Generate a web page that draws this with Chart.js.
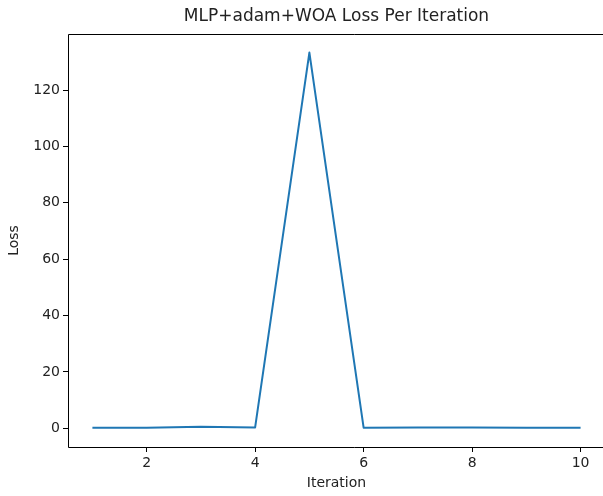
<!DOCTYPE html>
<html>
<head>
<meta charset="utf-8">
<script src="https://cdn.jsdelivr.net/npm/chart.js@4.4.0/dist/chart.umd.min.js"></script>
<style>
  html, body { margin: 0; padding: 0; background: #fff; overflow: hidden; }
  #wrap { width: 603px; height: 496px; overflow: hidden; }
</style>
</head>
<body>
<div id="wrap"><canvas id="lossChart" width="640" height="496"></canvas></div>
<script>
/* ================= DATA ================= */
const iterations = [1, 2, 3, 4, 5, 6, 7, 8, 9, 10];
const lossValues = [0.2, 0.2, 0.5, 0.3, 133.3, 0.2, 0.3, 0.25, 0.2, 0.15];
const xTickValues = [2, 4, 6, 8, 10];
const yTickValues = [0, 20, 40, 60, 80, 100, 120];

const chartTitle = 'MLP+adam+WOA Loss Per Iteration';
const FONT = '"DejaVu Sans", Verdana, sans-serif';
const INK = '#222';

/* ================= PLUGINS ================= */
// spines (left, top, bottom; the right one falls off the picture) + title centred on the axes
const framePlugin = {
    id: 'frame',
    afterDraw(chart) {
        const a = chart.chartArea;
        const ctx = chart.ctx;
        const l = Math.round(a.left) + 0.5, t = Math.round(a.top) + 0.5, b = Math.round(a.bottom) + 0.5;
        ctx.save();
        ctx.strokeStyle = '#000';
        ctx.lineWidth = 1;
        ctx.beginPath();
        ctx.moveTo(chart.width, t);
        ctx.lineTo(l, t);
        ctx.lineTo(l, b);
        ctx.lineTo(chart.width, b);
        ctx.stroke();
        ctx.fillStyle = INK;
        ctx.font = '17px ' + FONT;
        ctx.textAlign = 'center';
        ctx.textBaseline = 'middle';
        ctx.fillText(chartTitle, (a.left + a.right) / 2, 17);
        ctx.restore();
    }
};

/* ================= CHART ================= */
const points = iterations.map((x, i) => ({ x: x, y: lossValues[i] }));

new Chart(document.getElementById('lossChart'), {
    type: 'line',
    data: {
        datasets: [{
            data: points,
            borderColor: '#1f77b4',
            borderWidth: 2,
            borderJoinStyle: 'round',
            borderCapStyle: 'butt',
            pointRadius: 0,
            tension: 0,
            fill: false
        }]
    },
    options: {
        responsive: false,
        animation: false,
        layout: { padding: { top: 34, right: 35, left: 0, bottom: 0 } },
        plugins: { legend: { display: false }, tooltip: { enabled: false } },
        scales: {
            x: {
                type: 'linear',
                min: 0.55,
                max: 10.45,
                afterBuildTicks: s => { s.ticks = xTickValues.map(v => ({ value: v })); },
                afterFit: s => { s.height = 49; },
                grid: { drawOnChartArea: false, tickLength: 5, color: '#000' },
                border: { display: false },
                ticks: { color: INK, font: { family: FONT, size: 14 }, padding: 3, maxRotation: 0 },
                title: { display: true, text: 'Iteration', color: INK, font: { family: FONT, size: 14 }, padding: { top: 0 } }
            },
            y: {
                type: 'linear',
                min: -6.66,
                max: 139.9,
                afterBuildTicks: s => { s.ticks = yTickValues.map(v => ({ value: v })); },
                afterFit: s => { s.width = 68; },
                grid: { drawOnChartArea: false, tickLength: 5, color: '#000' },
                border: { display: false },
                ticks: { color: INK, font: { family: FONT, size: 14 }, padding: 3 },
                title: { display: true, text: 'Loss', color: INK, font: { family: FONT, size: 14 }, padding: { top: 6, bottom: 0 } }
            }
        }
    },
    plugins: [framePlugin]
});
</script>
</body>
</html>
